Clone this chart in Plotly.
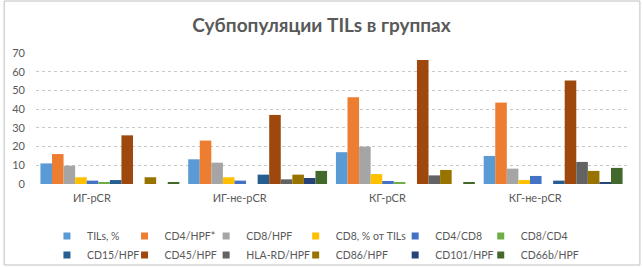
import plotly.graph_objects as go

categories = ["ИГ-pCR", "ИГ-не-pCR", "КГ-pCR", "КГ-не-pCR"]
series_names = ["TILs, %", "CD4/HPF*", "CD8/HPF", "CD8, % от TILs", "CD4/CD8", "CD8/CD4",
                "CD15/HPF", "CD45/HPF", "HLA-RD/HPF", "CD86/HPF", "CD101/HPF", "CD66b/HPF"]
tils = [11, 13.2, 17, 15]
cd4 = [16, 23.2, 46.4, 43.5]
cd8 = [9.8, 11.4, 20, 8.2]
cd8_pct = [3.6, 3.6, 5.3, 2.1]
cd4_cd8 = [1.8, 1.8, 1.6, 4.3]
cd8_cd4 = [0.6, 0, 0.6, 0]
cd15 = [2.1, 5, 0, 1.8]
cd45 = [26, 36.9, 66.3, 55.3]
hla_rd = [0, 2.5, 4.6, 11.8]
cd86 = [3.6, 5, 7.5, 7]
cd101 = [0, 3.2, 0, 0.9]
cd66b = [1, 7, 1, 8.6]
series_values = [tils, cd4, cd8, cd8_pct, cd4_cd8, cd8_cd4, cd15, cd45, hla_rd, cd86, cd101, cd66b]
colors = ["#5B9BD5", "#ED7D31", "#A5A5A5", "#FFC000", "#4472C4", "#70AD47",
          "#255E91", "#9E480E", "#636363", "#997300", "#264478", "#43682B"]
y_ticks = [0, 10, 20, 30, 40, 50, 60, 70]

# legend layout: 6 columns x 2 rows (column key-centre x positions, px)
legend_cols_px = [64, 142, 224, 314, 414, 500]

fig = go.Figure()
for i, (name, vals, col) in enumerate(zip(series_names, series_values, colors)):
    fig.add_trace(go.Bar(x=categories, y=vals, name=name, marker_color=col,
                         marker_line_width=0, showlegend=False))

# legend proxies (small square keys, as in the original); column c holds items c and c+6
for i, (name, col) in enumerate(zip(series_names, colors)):
    c = i % 6
    fig.add_trace(go.Scatter(x=[None], y=[None], mode="markers", name=name,
                             marker=dict(symbol="square", size=7, color=col),
                             legend="legend" if c == 0 else f"legend{c + 1}",
                             legendrank=i))

# plot area pixel geometry
L, R, T, B = 33, 16, 53, 83
W, H = 643 - L - R, 267 - T - B

def px(x):
    return (x - L) / W

def py(y):
    return (267 - B - y) / H

legend_common = dict(orientation="v", itemsizing="trace", tracegroupgap=0,
                     font=dict(family="Lato", size=10.5, color="#595959"),
                     bgcolor="rgba(0,0,0,0)", xanchor="left", yanchor="middle",
                     xref="paper", yref="container",
                     itemclick=False, itemdoubleclick=False)

legends = {}
for c, xk in enumerate(legend_cols_px):
    key = "legend" if c == 0 else f"legend{c + 1}"
    legends[key] = dict(x=px(xk - 20), y=1 - 245.5 / 267, **legend_common)

fig.update_layout(
    width=643, height=267,
    margin=dict(l=L, r=R, t=T, b=B),
    paper_bgcolor="white", plot_bgcolor="white",
    barmode="group", bargap=0.06, bargroupgap=0,
    title=dict(text="<b>Субпопуляции TILs в группах</b>", x=0.5, xanchor="center",
               y=1 - 25 / 267, yanchor="middle",
               font=dict(family="Lato", size=19, color="#595959")),
    font=dict(family="Lato", size=11, color="#595959"),
    xaxis=dict(showgrid=False, showline=False, ticks="", zeroline=False,
               tickfont=dict(family="Lato", size=11, color="#595959"),
               ticklabelshift=-18, ticklabelstandoff=6),
    yaxis=dict(range=[0, 70], tickvals=y_ticks, showgrid=True,
               gridcolor="#C8C8C8", griddash="dot", gridwidth=1,
               zeroline=False, showline=False, ticks="",
               tickfont=dict(family="Lato", size=11, color="#595959"),
               ticklabelstandoff=10),
    shapes=[dict(type="rect", xref="paper", yref="paper",
                 x0=px(1), x1=px(640), y0=py(265), y1=py(1),
                 line=dict(color="#BFBFBF", width=1), layer="below")],
    **legends,
)

fig.write_html("out.html", config={"displayModeBar": False},
               post_script="document.body.style.margin='0';document.body.style.overflow='hidden';")
